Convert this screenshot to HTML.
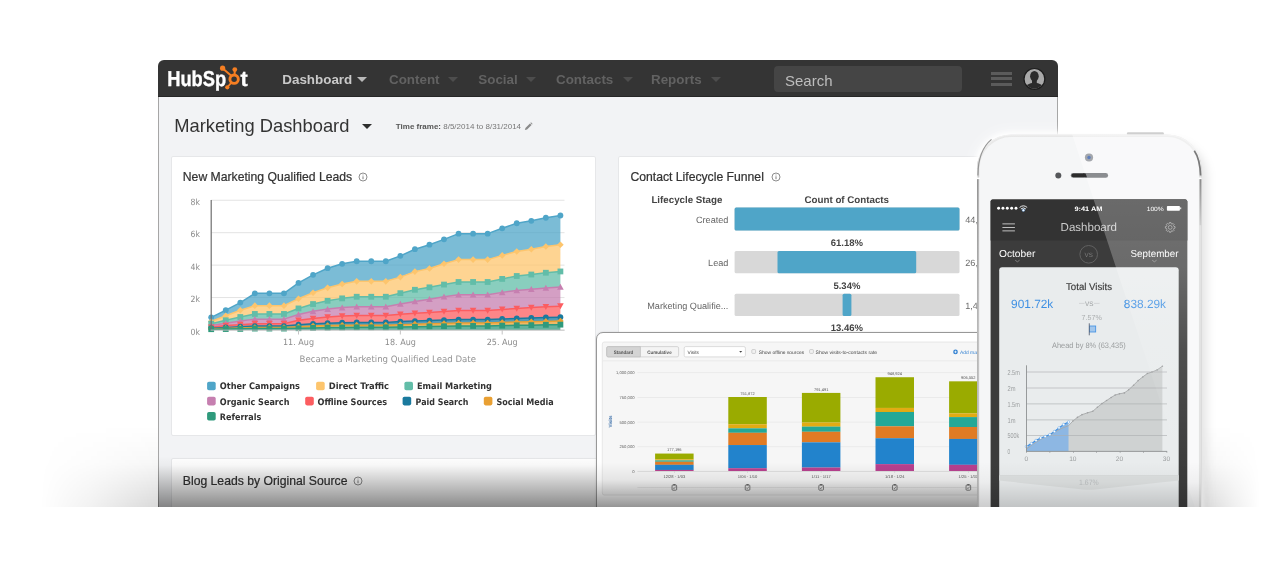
<!DOCTYPE html>
<html lang="en">
<head>
<meta charset="utf-8">
<title>HubSpot Marketing Dashboard</title>
<style>
html,body{margin:0;padding:0;background:#fff;}
body{width:1280px;height:587px;overflow:hidden;position:relative;font-family:"Liberation Sans",Arial,sans-serif;}
#stage{position:absolute;left:0;top:0;width:1280px;height:506.6px;overflow:hidden;}
.abs{position:absolute;}
svg{position:absolute;overflow:visible;}
svg text{font-family:"Liberation Sans",Arial,sans-serif;text-rendering:geometricPrecision;}
.dv{font-family:"DejaVu Sans Condensed","DejaVu Sans",sans-serif;}
/* main window */
#win{position:absolute;left:158px;top:60px;width:899.8px;height:460px;background:#f2f3f5;border-radius:6px 6px 0 0;overflow:hidden;}
#nav{position:absolute;left:0;top:0;width:900px;height:37px;background:#343434;border-bottom:1px solid #262626;box-sizing:border-box;}
.nv{position:absolute;top:10.5px;font-size:13.4px;font-weight:bold;color:#626262;white-space:nowrap;line-height:18px;}
.nv.on{color:#c9c9c9;}
.car{position:absolute;width:0;height:0;border-left:5px solid transparent;border-right:5px solid transparent;border-top:5px solid #4f4f4f;top:17px;}
.card{position:absolute;background:#fff;border:1px solid #e6e7e9;box-sizing:border-box;border-radius:2px;}
.ct{position:absolute;font-size:12.2px;color:#333;-webkit-text-stroke:0.22px #333;white-space:nowrap;line-height:16px;}
</style>
</head>
<body>
<div id="stage">
<div id="oshade" class="abs" style="left:40px;top:426px;width:1225px;height:81px;background:linear-gradient(to bottom,rgba(0,0,0,0) 0%,rgba(0,0,0,0.03) 45%,rgba(0,0,0,0.15) 100%);-webkit-mask-image:linear-gradient(to right,rgba(0,0,0,0) 0px,rgba(0,0,0,0.35) 50px,#000 118px,#000 1161px,rgba(0,0,0,0.8) 1175px,rgba(0,0,0,0.4) 1195px,rgba(0,0,0,0) 1220px);mask-image:linear-gradient(to right,rgba(0,0,0,0) 0px,rgba(0,0,0,0.35) 50px,#000 118px,#000 1161px,rgba(0,0,0,0.8) 1175px,rgba(0,0,0,0.4) 1195px,rgba(0,0,0,0) 1220px);"></div>
<div id="win">
<div id="nav">
<svg width="100" height="37" style="left:0;top:0" viewBox="158 60 100 37">
<text x="167.2" y="85.8" font-size="21.5" font-weight="bold" fill="#fff" stroke="#fff" stroke-width="0.35" textLength="59" lengthAdjust="spacingAndGlyphs">HubSp</text>
<text x="240.6" y="85.8" font-size="21.5" font-weight="bold" fill="#fff" stroke="#fff" stroke-width="0.35" textLength="7.2" lengthAdjust="spacingAndGlyphs">t</text>
<g stroke="#f57e22" fill="none" stroke-linecap="round">
<circle cx="234.1" cy="79.2" r="4.2" stroke-width="2.9"/>
<path d="M234.6 74.5 L234.8 69.8" stroke-width="2"/>
<path d="M231 75.6 L222.8 68.4" stroke-width="2"/>
<path d="M231.2 82.8 L227.5 87" stroke-width="1.8"/>
</g>
<g fill="#f57e22"><circle cx="234.8" cy="69.6" r="2.4"/><circle cx="222.6" cy="68.2" r="2.6"/><circle cx="227.3" cy="87.3" r="2.1"/></g>
</svg>
<div class="nv on" style="left:124.3px">Dashboard</div>
<div class="car" style="left:199.4px;border-top-color:#b9b9b9"></div>
<div class="nv" style="left:231px">Content</div>
<div class="car" style="left:289.5px;border-top-color:#4d4d4d"></div>
<div class="nv" style="left:320.3px">Social</div>
<div class="car" style="left:367.5px;border-top-color:#4d4d4d"></div>
<div class="nv" style="left:398px">Contacts</div>
<div class="car" style="left:464.5px;border-top-color:#4d4d4d"></div>
<div class="nv" style="left:493px">Reports</div>
<div class="car" style="left:552.5px;border-top-color:#4d4d4d"></div>
<div class="abs" style="left:616px;top:6px;width:188px;height:26px;background:#454545;border-radius:4px;"></div>
<div class="abs" style="left:627px;top:12.1px;font-size:15px;color:#bdbdbd;line-height:18px;">Search</div>
<div class="abs" style="left:832.5px;top:12px;width:21.5px;height:2.8px;background:#5b5b5b;"></div>
<div class="abs" style="left:832.5px;top:17.4px;width:21.5px;height:2.8px;background:#5b5b5b;"></div>
<div class="abs" style="left:832.5px;top:22.8px;width:21.5px;height:2.8px;background:#5b5b5b;"></div>
<svg width="30" height="30" style="left:861px;top:4px" viewBox="1019 64 30 30">
<circle cx="1034.4" cy="78.9" r="10.4" fill="#a9a9a9" stroke="#1d1d1d" stroke-width="1.2"/>
<clipPath id="avc"><circle cx="1034.4" cy="78.9" r="9.8"/></clipPath>
<g clip-path="url(#avc)" fill="#2b2b2b"><ellipse cx="1034.4" cy="76.2" rx="4.3" ry="5.3"/><path d="M1032 80 H1036.8 V83 C1041 84.2 1044 85.2 1045.5 92 H1023.3 C1024.8 85.2 1027.8 84.2 1032 83 Z"/></g>
</svg>
</div>
<div class="abs" style="left:16.2px;top:56.3px;font-size:18.33px;color:#333;line-height:20px;white-space:nowrap;">Marketing Dashboard</div>
<div class="abs" style="left:204.3px;top:63.6px;width:0;height:0;border-left:5.3px solid transparent;border-right:5.3px solid transparent;border-top:5.8px solid #2e2e2e;"></div>
<div class="abs" style="left:237.8px;top:61.5px;font-size:8px;color:#777;line-height:10px;white-space:nowrap;"><b style="color:#555">Time frame:</b> 8/5/2014 to 8/31/2014</div>
<svg width="9" height="9" style="left:365.6px;top:61.6px" viewBox="0 0 10 10"><path d="M1 9 L1.6 6.6 L6.6 1.6 L8.4 3.4 L3.4 8.4 Z" fill="#8a8a8a"/><path d="M7.1 1.1 L7.8 0.4 L9.6 2.2 L8.9 2.9 Z" fill="#8a8a8a"/></svg>
<div class="card" style="left:13px;top:96px;width:425px;height:280px;"></div>
<div class="card" style="left:460px;top:96px;width:460px;height:280px;"></div>
<div class="card" style="left:13px;top:398px;width:907px;height:80px;"></div>
<div class="ct" style="left:24.8px;top:108.5px;">New Marketing Qualified Leads</div><svg width="10" height="10" style="left:199.9px;top:111.8px" viewBox="0 0 10 10"><circle cx="5" cy="5" r="4" fill="none" stroke="#808080" stroke-width="0.9"/><path d="M5 4.3 V7.2 M5 2.6 V3.4" stroke="#808080" stroke-width="1"/></svg>
<div class="ct" style="left:472.4px;top:108.5px;">Contact Lifecycle Funnel</div><svg width="10" height="10" style="left:612.5px;top:111.8px" viewBox="0 0 10 10"><circle cx="5" cy="5" r="4" fill="none" stroke="#808080" stroke-width="0.9"/><path d="M5 4.3 V7.2 M5 2.6 V3.4" stroke="#808080" stroke-width="1"/></svg>
<div class="ct" style="left:24.8px;top:413px;">Blog Leads by Original Source</div><svg width="10" height="10" style="left:195px;top:416.2px" viewBox="0 0 10 10"><circle cx="5" cy="5" r="4" fill="none" stroke="#808080" stroke-width="0.9"/><path d="M5 4.3 V7.2 M5 2.6 V3.4" stroke="#808080" stroke-width="1"/></svg>
<svg width="900" height="460" style="left:0;top:0" viewBox="158 60 900 460">
<rect x="211" y="297.06" width="353.5" height="1" fill="#e3e3e3"/>
<rect x="211" y="264.62" width="353.5" height="1" fill="#e3e3e3"/>
<rect x="211" y="232.18" width="353.5" height="1" fill="#e3e3e3"/>
<rect x="211" y="199.74" width="353.5" height="1" fill="#e3e3e3"/>
<text class="dv" x="200" y="334.60" font-size="8.6" fill="#8c8c8c" text-anchor="end">0k</text>
<text class="dv" x="200" y="302.16" font-size="8.6" fill="#8c8c8c" text-anchor="end">2k</text>
<text class="dv" x="200" y="269.72" font-size="8.6" fill="#8c8c8c" text-anchor="end">4k</text>
<text class="dv" x="200" y="237.28" font-size="8.6" fill="#8c8c8c" text-anchor="end">6k</text>
<text class="dv" x="200" y="204.84" font-size="8.6" fill="#8c8c8c" text-anchor="end">8k</text>
<path d="M211.2 317.35 L225.75 310.21 L240.3 302.59 L254.85 293.34 L269.4 293.34 L283.95 293.34 L298.5 282.96 L313.05 274.85 L327.6 268.2 L342.15 263.82 L356.7 261.23 L371.25 261.23 L385.8 261.23 L400.35 255.87 L414.9 249.22 L429.45 244.68 L444.0 239.33 L458.55 233.65 L473.1 233.65 L487.65 233.65 L502.2 228.3 L516.75 223.27 L531.3 220.84 L545.85 217.76 L560.4 215.49 L560.4 244.68 L545.85 246.47 L531.3 249.22 L516.75 251.5 L502.2 255.39 L487.65 259.61 L473.1 259.61 L458.55 259.61 L444.0 263.82 L429.45 268.53 L414.9 271.61 L400.35 277.12 L385.8 281.34 L371.25 281.34 L356.7 281.34 L342.15 283.94 L327.6 287.83 L313.05 292.69 L298.5 298.7 L283.95 305.67 L269.4 305.67 L254.85 305.67 L240.3 310.21 L225.75 315.73 L211.2 321.57 Z" fill="#4fa5c8" fill-opacity="0.75"/>
<path d="M211.2 321.57 L225.75 315.73 L240.3 310.21 L254.85 305.67 L269.4 305.67 L283.95 305.67 L298.5 298.7 L313.05 292.69 L327.6 287.83 L342.15 283.94 L356.7 281.34 L371.25 281.34 L385.8 281.34 L400.35 277.12 L414.9 271.61 L429.45 268.53 L444.0 263.82 L458.55 259.61 L473.1 259.61 L487.65 259.61 L502.2 255.39 L516.75 251.5 L531.3 249.22 L545.85 246.47 L560.4 244.68 L560.4 271.45 L545.85 272.74 L531.3 274.53 L516.75 275.99 L502.2 278.91 L487.65 281.99 L473.1 281.99 L458.55 281.99 L444.0 284.58 L429.45 287.34 L414.9 289.77 L400.35 293.18 L385.8 296.75 L371.25 296.75 L356.7 296.75 L342.15 298.37 L327.6 300.8 L313.05 304.05 L298.5 308.43 L283.95 313.94 L269.4 313.94 L254.85 313.94 L240.3 317.02 L225.75 320.27 L211.2 323.67 Z" fill="#fdc56d" fill-opacity="0.75"/>
<path d="M211.2 323.67 L225.75 320.27 L240.3 317.02 L254.85 313.94 L269.4 313.94 L283.95 313.94 L298.5 308.43 L313.05 304.05 L327.6 300.8 L342.15 298.37 L356.7 296.75 L371.25 296.75 L385.8 296.75 L400.35 293.18 L414.9 289.77 L429.45 287.34 L444.0 284.58 L458.55 281.99 L473.1 281.99 L487.65 281.99 L502.2 278.91 L516.75 275.99 L531.3 274.53 L545.85 272.74 L560.4 271.45 L560.4 287.02 L545.85 287.99 L531.3 289.29 L516.75 290.42 L502.2 292.37 L487.65 294.64 L473.1 294.64 L458.55 294.64 L444.0 296.75 L429.45 299.18 L414.9 301.45 L400.35 304.05 L385.8 306.64 L371.25 306.64 L356.7 306.64 L342.15 307.62 L327.6 309.08 L313.05 311.35 L298.5 314.43 L283.95 319.13 L269.4 319.13 L254.85 319.13 L240.3 321.08 L225.75 323.35 L211.2 325.46 Z" fill="#62bda8" fill-opacity="0.75"/>
<path d="M211.2 325.46 L225.75 323.35 L240.3 321.08 L254.85 319.13 L269.4 319.13 L283.95 319.13 L298.5 314.43 L313.05 311.35 L327.6 309.08 L342.15 307.62 L356.7 306.64 L371.25 306.64 L385.8 306.64 L400.35 304.05 L414.9 301.45 L429.45 299.18 L444.0 296.75 L458.55 294.64 L473.1 294.64 L487.65 294.64 L502.2 292.37 L516.75 290.42 L531.3 289.29 L545.85 287.99 L560.4 287.02 L560.4 306.16 L545.85 306.81 L531.3 307.62 L516.75 308.43 L502.2 309.4 L487.65 310.54 L473.1 310.54 L458.55 310.54 L444.0 311.51 L429.45 312.48 L414.9 313.29 L400.35 314.27 L385.8 315.56 L371.25 315.56 L356.7 315.56 L342.15 316.05 L327.6 317.02 L313.05 318.48 L298.5 320.27 L283.95 323.67 L269.4 323.67 L254.85 323.67 L240.3 324.65 L225.75 325.62 L211.2 327.24 Z" fill="#c67fb0" fill-opacity="0.75"/>
<path d="M211.2 327.24 L225.75 325.62 L240.3 324.65 L254.85 323.67 L269.4 323.67 L283.95 323.67 L298.5 320.27 L313.05 318.48 L327.6 317.02 L342.15 316.05 L356.7 315.56 L371.25 315.56 L385.8 315.56 L400.35 314.27 L414.9 313.29 L429.45 312.48 L444.0 311.51 L458.55 310.54 L473.1 310.54 L487.65 310.54 L502.2 309.4 L516.75 308.43 L531.3 307.62 L545.85 306.81 L560.4 306.16 L560.4 317.19 L545.85 317.51 L531.3 318.0 L516.75 318.48 L502.2 318.97 L487.65 319.62 L473.1 319.62 L458.55 319.62 L444.0 320.11 L429.45 320.59 L414.9 321.08 L400.35 321.57 L385.8 322.38 L371.25 322.38 L356.7 322.38 L342.15 322.7 L327.6 323.19 L313.05 323.84 L298.5 324.65 L283.95 326.11 L269.4 326.11 L254.85 326.11 L240.3 326.76 L225.75 327.4 L211.2 328.22 Z" fill="#fc5d60" fill-opacity="0.75"/>
<path d="M211.2 328.22 L225.75 327.4 L240.3 326.76 L254.85 326.11 L269.4 326.11 L283.95 326.11 L298.5 324.65 L313.05 323.84 L327.6 323.19 L342.15 322.7 L356.7 322.38 L371.25 322.38 L385.8 322.38 L400.35 321.57 L414.9 321.08 L429.45 320.59 L444.0 320.11 L458.55 319.62 L473.1 319.62 L487.65 319.62 L502.2 318.97 L516.75 318.48 L531.3 318.0 L545.85 317.51 L560.4 317.19 L560.4 321.08 L545.85 321.4 L531.3 321.73 L516.75 322.05 L502.2 322.54 L487.65 323.03 L473.1 323.03 L458.55 323.03 L444.0 323.51 L429.45 323.84 L414.9 324.16 L400.35 324.65 L385.8 325.13 L371.25 325.13 L356.7 325.13 L342.15 325.3 L327.6 325.62 L313.05 326.11 L298.5 326.76 L283.95 327.57 L269.4 327.57 L254.85 327.57 L240.3 327.89 L225.75 328.38 L211.2 328.7 Z" fill="#1a7a9e" fill-opacity="0.75"/>
<path d="M211.2 328.7 L225.75 328.38 L240.3 327.89 L254.85 327.57 L269.4 327.57 L283.95 327.57 L298.5 326.76 L313.05 326.11 L327.6 325.62 L342.15 325.3 L356.7 325.13 L371.25 325.13 L385.8 325.13 L400.35 324.65 L414.9 324.16 L429.45 323.84 L444.0 323.51 L458.55 323.03 L473.1 323.03 L487.65 323.03 L502.2 322.54 L516.75 322.05 L531.3 321.73 L545.85 321.4 L560.4 321.08 L560.4 324.65 L545.85 324.81 L531.3 325.13 L516.75 325.3 L502.2 325.62 L487.65 325.94 L473.1 325.94 L458.55 325.94 L444.0 326.27 L429.45 326.43 L414.9 326.76 L400.35 326.92 L385.8 327.24 L371.25 327.24 L356.7 327.24 L342.15 327.4 L327.6 327.57 L313.05 327.89 L298.5 328.22 L283.95 328.54 L269.4 328.54 L254.85 328.54 L240.3 328.86 L225.75 329.03 L211.2 329.19 Z" fill="#e9a033" fill-opacity="0.75"/>
<path d="M211.2 329.19 L225.75 329.03 L240.3 328.86 L254.85 328.54 L269.4 328.54 L283.95 328.54 L298.5 328.22 L313.05 327.89 L327.6 327.57 L342.15 327.4 L356.7 327.24 L371.25 327.24 L385.8 327.24 L400.35 326.92 L414.9 326.76 L429.45 326.43 L444.0 326.27 L458.55 325.94 L473.1 325.94 L487.65 325.94 L502.2 325.62 L516.75 325.3 L531.3 325.13 L545.85 324.81 L560.4 324.65 L560.4 330.0 L545.85 330.0 L531.3 330.0 L516.75 330.0 L502.2 330.0 L487.65 330.0 L473.1 330.0 L458.55 330.0 L444.0 330.0 L429.45 330.0 L414.9 330.0 L400.35 330.0 L385.8 330.0 L371.25 330.0 L356.7 330.0 L342.15 330.0 L327.6 330.0 L313.05 330.0 L298.5 330.0 L283.95 330.0 L269.4 330.0 L254.85 330.0 L240.3 330.0 L225.75 330.0 L211.2 330.0 Z" fill="#2f9a7c" fill-opacity="0.75"/>
<path d="M211.2 317.35 L225.75 310.21 L240.3 302.59 L254.85 293.34 L269.4 293.34 L283.95 293.34 L298.5 282.96 L313.05 274.85 L327.6 268.2 L342.15 263.82 L356.7 261.23 L371.25 261.23 L385.8 261.23 L400.35 255.87 L414.9 249.22 L429.45 244.68 L444.0 239.33 L458.55 233.65 L473.1 233.65 L487.65 233.65 L502.2 228.3 L516.75 223.27 L531.3 220.84 L545.85 217.76 L560.4 215.49" fill="none" stroke="#4fa5c8" stroke-width="1.5" stroke-linejoin="round"/>
<circle cx="211.2" cy="317.35" r="2.9" fill="#4fa5c8"/><circle cx="225.75" cy="310.21" r="2.9" fill="#4fa5c8"/><circle cx="240.3" cy="302.59" r="2.9" fill="#4fa5c8"/><circle cx="254.85" cy="293.34" r="2.9" fill="#4fa5c8"/><circle cx="269.4" cy="293.34" r="2.9" fill="#4fa5c8"/><circle cx="283.95" cy="293.34" r="2.9" fill="#4fa5c8"/><circle cx="298.5" cy="282.96" r="2.9" fill="#4fa5c8"/><circle cx="313.05" cy="274.85" r="2.9" fill="#4fa5c8"/><circle cx="327.6" cy="268.2" r="2.9" fill="#4fa5c8"/><circle cx="342.15" cy="263.82" r="2.9" fill="#4fa5c8"/><circle cx="356.7" cy="261.23" r="2.9" fill="#4fa5c8"/><circle cx="371.25" cy="261.23" r="2.9" fill="#4fa5c8"/><circle cx="385.8" cy="261.23" r="2.9" fill="#4fa5c8"/><circle cx="400.35" cy="255.87" r="2.9" fill="#4fa5c8"/><circle cx="414.9" cy="249.22" r="2.9" fill="#4fa5c8"/><circle cx="429.45" cy="244.68" r="2.9" fill="#4fa5c8"/><circle cx="444.0" cy="239.33" r="2.9" fill="#4fa5c8"/><circle cx="458.55" cy="233.65" r="2.9" fill="#4fa5c8"/><circle cx="473.1" cy="233.65" r="2.9" fill="#4fa5c8"/><circle cx="487.65" cy="233.65" r="2.9" fill="#4fa5c8"/><circle cx="502.2" cy="228.3" r="2.9" fill="#4fa5c8"/><circle cx="516.75" cy="223.27" r="2.9" fill="#4fa5c8"/><circle cx="531.3" cy="220.84" r="2.9" fill="#4fa5c8"/><circle cx="545.85" cy="217.76" r="2.9" fill="#4fa5c8"/><circle cx="560.4" cy="215.49" r="2.9" fill="#4fa5c8"/>
<path d="M211.2 321.57 L225.75 315.73 L240.3 310.21 L254.85 305.67 L269.4 305.67 L283.95 305.67 L298.5 298.7 L313.05 292.69 L327.6 287.83 L342.15 283.94 L356.7 281.34 L371.25 281.34 L385.8 281.34 L400.35 277.12 L414.9 271.61 L429.45 268.53 L444.0 263.82 L458.55 259.61 L473.1 259.61 L487.65 259.61 L502.2 255.39 L516.75 251.5 L531.3 249.22 L545.85 246.47 L560.4 244.68" fill="none" stroke="#fdc56d" stroke-width="1.5" stroke-linejoin="round"/>
<path d="M211.2 318.27 L214.50 321.57 L211.2 324.87 L207.90 321.57 Z" fill="#fdc56d"/><path d="M225.75 312.43 L229.05 315.73 L225.75 319.03 L222.45 315.73 Z" fill="#fdc56d"/><path d="M240.3 306.91 L243.60 310.21 L240.3 313.51 L237.00 310.21 Z" fill="#fdc56d"/><path d="M254.85 302.37 L258.15 305.67 L254.85 308.97 L251.55 305.67 Z" fill="#fdc56d"/><path d="M269.4 302.37 L272.70 305.67 L269.4 308.97 L266.10 305.67 Z" fill="#fdc56d"/><path d="M283.95 302.37 L287.25 305.67 L283.95 308.97 L280.65 305.67 Z" fill="#fdc56d"/><path d="M298.5 295.40 L301.80 298.7 L298.5 302.00 L295.20 298.7 Z" fill="#fdc56d"/><path d="M313.05 289.39 L316.35 292.69 L313.05 295.99 L309.75 292.69 Z" fill="#fdc56d"/><path d="M327.6 284.53 L330.90 287.83 L327.6 291.13 L324.30 287.83 Z" fill="#fdc56d"/><path d="M342.15 280.64 L345.45 283.94 L342.15 287.24 L338.85 283.94 Z" fill="#fdc56d"/><path d="M356.7 278.04 L360.00 281.34 L356.7 284.64 L353.40 281.34 Z" fill="#fdc56d"/><path d="M371.25 278.04 L374.55 281.34 L371.25 284.64 L367.95 281.34 Z" fill="#fdc56d"/><path d="M385.8 278.04 L389.10 281.34 L385.8 284.64 L382.50 281.34 Z" fill="#fdc56d"/><path d="M400.35 273.82 L403.65 277.12 L400.35 280.42 L397.05 277.12 Z" fill="#fdc56d"/><path d="M414.9 268.31 L418.20 271.61 L414.9 274.91 L411.60 271.61 Z" fill="#fdc56d"/><path d="M429.45 265.23 L432.75 268.53 L429.45 271.83 L426.15 268.53 Z" fill="#fdc56d"/><path d="M444.0 260.52 L447.30 263.82 L444.0 267.12 L440.70 263.82 Z" fill="#fdc56d"/><path d="M458.55 256.31 L461.85 259.61 L458.55 262.91 L455.25 259.61 Z" fill="#fdc56d"/><path d="M473.1 256.31 L476.40 259.61 L473.1 262.91 L469.80 259.61 Z" fill="#fdc56d"/><path d="M487.65 256.31 L490.95 259.61 L487.65 262.91 L484.35 259.61 Z" fill="#fdc56d"/><path d="M502.2 252.09 L505.50 255.39 L502.2 258.69 L498.90 255.39 Z" fill="#fdc56d"/><path d="M516.75 248.20 L520.05 251.5 L516.75 254.80 L513.45 251.5 Z" fill="#fdc56d"/><path d="M531.3 245.92 L534.60 249.22 L531.3 252.52 L528.00 249.22 Z" fill="#fdc56d"/><path d="M545.85 243.17 L549.15 246.47 L545.85 249.77 L542.55 246.47 Z" fill="#fdc56d"/><path d="M560.4 241.38 L563.70 244.68 L560.4 247.98 L557.10 244.68 Z" fill="#fdc56d"/>
<path d="M211.2 323.67 L225.75 320.27 L240.3 317.02 L254.85 313.94 L269.4 313.94 L283.95 313.94 L298.5 308.43 L313.05 304.05 L327.6 300.8 L342.15 298.37 L356.7 296.75 L371.25 296.75 L385.8 296.75 L400.35 293.18 L414.9 289.77 L429.45 287.34 L444.0 284.58 L458.55 281.99 L473.1 281.99 L487.65 281.99 L502.2 278.91 L516.75 275.99 L531.3 274.53 L545.85 272.74 L560.4 271.45" fill="none" stroke="#62bda8" stroke-width="1.5" stroke-linejoin="round"/>
<rect x="208.30" y="320.77" width="5.8" height="5.8" fill="#62bda8"/><rect x="222.85" y="317.37" width="5.8" height="5.8" fill="#62bda8"/><rect x="237.40" y="314.12" width="5.8" height="5.8" fill="#62bda8"/><rect x="251.95" y="311.04" width="5.8" height="5.8" fill="#62bda8"/><rect x="266.50" y="311.04" width="5.8" height="5.8" fill="#62bda8"/><rect x="281.05" y="311.04" width="5.8" height="5.8" fill="#62bda8"/><rect x="295.60" y="305.53" width="5.8" height="5.8" fill="#62bda8"/><rect x="310.15" y="301.15" width="5.8" height="5.8" fill="#62bda8"/><rect x="324.70" y="297.90" width="5.8" height="5.8" fill="#62bda8"/><rect x="339.25" y="295.47" width="5.8" height="5.8" fill="#62bda8"/><rect x="353.80" y="293.85" width="5.8" height="5.8" fill="#62bda8"/><rect x="368.35" y="293.85" width="5.8" height="5.8" fill="#62bda8"/><rect x="382.90" y="293.85" width="5.8" height="5.8" fill="#62bda8"/><rect x="397.45" y="290.28" width="5.8" height="5.8" fill="#62bda8"/><rect x="412.00" y="286.87" width="5.8" height="5.8" fill="#62bda8"/><rect x="426.55" y="284.44" width="5.8" height="5.8" fill="#62bda8"/><rect x="441.10" y="281.68" width="5.8" height="5.8" fill="#62bda8"/><rect x="455.65" y="279.09" width="5.8" height="5.8" fill="#62bda8"/><rect x="470.20" y="279.09" width="5.8" height="5.8" fill="#62bda8"/><rect x="484.75" y="279.09" width="5.8" height="5.8" fill="#62bda8"/><rect x="499.30" y="276.01" width="5.8" height="5.8" fill="#62bda8"/><rect x="513.85" y="273.09" width="5.8" height="5.8" fill="#62bda8"/><rect x="528.40" y="271.63" width="5.8" height="5.8" fill="#62bda8"/><rect x="542.95" y="269.84" width="5.8" height="5.8" fill="#62bda8"/><rect x="557.50" y="268.55" width="5.8" height="5.8" fill="#62bda8"/>
<path d="M211.2 325.46 L225.75 323.35 L240.3 321.08 L254.85 319.13 L269.4 319.13 L283.95 319.13 L298.5 314.43 L313.05 311.35 L327.6 309.08 L342.15 307.62 L356.7 306.64 L371.25 306.64 L385.8 306.64 L400.35 304.05 L414.9 301.45 L429.45 299.18 L444.0 296.75 L458.55 294.64 L473.1 294.64 L487.65 294.64 L502.2 292.37 L516.75 290.42 L531.3 289.29 L545.85 287.99 L560.4 287.02" fill="none" stroke="#c67fb0" stroke-width="1.5" stroke-linejoin="round"/>
<path d="M211.2 322.26 L214.50 328.26 L207.90 328.26 Z" fill="#c67fb0"/><path d="M225.75 320.15 L229.05 326.15 L222.45 326.15 Z" fill="#c67fb0"/><path d="M240.3 317.88 L243.60 323.88 L237.00 323.88 Z" fill="#c67fb0"/><path d="M254.85 315.93 L258.15 321.93 L251.55 321.93 Z" fill="#c67fb0"/><path d="M269.4 315.93 L272.70 321.93 L266.10 321.93 Z" fill="#c67fb0"/><path d="M283.95 315.93 L287.25 321.93 L280.65 321.93 Z" fill="#c67fb0"/><path d="M298.5 311.23 L301.80 317.23 L295.20 317.23 Z" fill="#c67fb0"/><path d="M313.05 308.15 L316.35 314.15 L309.75 314.15 Z" fill="#c67fb0"/><path d="M327.6 305.88 L330.90 311.88 L324.30 311.88 Z" fill="#c67fb0"/><path d="M342.15 304.42 L345.45 310.42 L338.85 310.42 Z" fill="#c67fb0"/><path d="M356.7 303.44 L360.00 309.44 L353.40 309.44 Z" fill="#c67fb0"/><path d="M371.25 303.44 L374.55 309.44 L367.95 309.44 Z" fill="#c67fb0"/><path d="M385.8 303.44 L389.10 309.44 L382.50 309.44 Z" fill="#c67fb0"/><path d="M400.35 300.85 L403.65 306.85 L397.05 306.85 Z" fill="#c67fb0"/><path d="M414.9 298.25 L418.20 304.25 L411.60 304.25 Z" fill="#c67fb0"/><path d="M429.45 295.98 L432.75 301.98 L426.15 301.98 Z" fill="#c67fb0"/><path d="M444.0 293.55 L447.30 299.55 L440.70 299.55 Z" fill="#c67fb0"/><path d="M458.55 291.44 L461.85 297.44 L455.25 297.44 Z" fill="#c67fb0"/><path d="M473.1 291.44 L476.40 297.44 L469.80 297.44 Z" fill="#c67fb0"/><path d="M487.65 291.44 L490.95 297.44 L484.35 297.44 Z" fill="#c67fb0"/><path d="M502.2 289.17 L505.50 295.17 L498.90 295.17 Z" fill="#c67fb0"/><path d="M516.75 287.22 L520.05 293.22 L513.45 293.22 Z" fill="#c67fb0"/><path d="M531.3 286.09 L534.60 292.09 L528.00 292.09 Z" fill="#c67fb0"/><path d="M545.85 284.79 L549.15 290.79 L542.55 290.79 Z" fill="#c67fb0"/><path d="M560.4 283.82 L563.70 289.82 L557.10 289.82 Z" fill="#c67fb0"/>
<path d="M211.2 327.24 L225.75 325.62 L240.3 324.65 L254.85 323.67 L269.4 323.67 L283.95 323.67 L298.5 320.27 L313.05 318.48 L327.6 317.02 L342.15 316.05 L356.7 315.56 L371.25 315.56 L385.8 315.56 L400.35 314.27 L414.9 313.29 L429.45 312.48 L444.0 311.51 L458.55 310.54 L473.1 310.54 L487.65 310.54 L502.2 309.4 L516.75 308.43 L531.3 307.62 L545.85 306.81 L560.4 306.16" fill="none" stroke="#fc5d60" stroke-width="1.5" stroke-linejoin="round"/>
<path d="M211.2 330.44 L214.50 324.44 L207.90 324.44 Z" fill="#fc5d60"/><path d="M225.75 328.82 L229.05 322.82 L222.45 322.82 Z" fill="#fc5d60"/><path d="M240.3 327.85 L243.60 321.85 L237.00 321.85 Z" fill="#fc5d60"/><path d="M254.85 326.87 L258.15 320.87 L251.55 320.87 Z" fill="#fc5d60"/><path d="M269.4 326.87 L272.70 320.87 L266.10 320.87 Z" fill="#fc5d60"/><path d="M283.95 326.87 L287.25 320.87 L280.65 320.87 Z" fill="#fc5d60"/><path d="M298.5 323.47 L301.80 317.47 L295.20 317.47 Z" fill="#fc5d60"/><path d="M313.05 321.68 L316.35 315.68 L309.75 315.68 Z" fill="#fc5d60"/><path d="M327.6 320.22 L330.90 314.22 L324.30 314.22 Z" fill="#fc5d60"/><path d="M342.15 319.25 L345.45 313.25 L338.85 313.25 Z" fill="#fc5d60"/><path d="M356.7 318.76 L360.00 312.76 L353.40 312.76 Z" fill="#fc5d60"/><path d="M371.25 318.76 L374.55 312.76 L367.95 312.76 Z" fill="#fc5d60"/><path d="M385.8 318.76 L389.10 312.76 L382.50 312.76 Z" fill="#fc5d60"/><path d="M400.35 317.47 L403.65 311.47 L397.05 311.47 Z" fill="#fc5d60"/><path d="M414.9 316.49 L418.20 310.49 L411.60 310.49 Z" fill="#fc5d60"/><path d="M429.45 315.68 L432.75 309.68 L426.15 309.68 Z" fill="#fc5d60"/><path d="M444.0 314.71 L447.30 308.71 L440.70 308.71 Z" fill="#fc5d60"/><path d="M458.55 313.74 L461.85 307.74 L455.25 307.74 Z" fill="#fc5d60"/><path d="M473.1 313.74 L476.40 307.74 L469.80 307.74 Z" fill="#fc5d60"/><path d="M487.65 313.74 L490.95 307.74 L484.35 307.74 Z" fill="#fc5d60"/><path d="M502.2 312.60 L505.50 306.60 L498.90 306.60 Z" fill="#fc5d60"/><path d="M516.75 311.63 L520.05 305.63 L513.45 305.63 Z" fill="#fc5d60"/><path d="M531.3 310.82 L534.60 304.82 L528.00 304.82 Z" fill="#fc5d60"/><path d="M545.85 310.01 L549.15 304.01 L542.55 304.01 Z" fill="#fc5d60"/><path d="M560.4 309.36 L563.70 303.36 L557.10 303.36 Z" fill="#fc5d60"/>
<path d="M211.2 328.22 L225.75 327.4 L240.3 326.76 L254.85 326.11 L269.4 326.11 L283.95 326.11 L298.5 324.65 L313.05 323.84 L327.6 323.19 L342.15 322.7 L356.7 322.38 L371.25 322.38 L385.8 322.38 L400.35 321.57 L414.9 321.08 L429.45 320.59 L444.0 320.11 L458.55 319.62 L473.1 319.62 L487.65 319.62 L502.2 318.97 L516.75 318.48 L531.3 318.0 L545.85 317.51 L560.4 317.19" fill="none" stroke="#1a7a9e" stroke-width="1.5" stroke-linejoin="round"/>
<circle cx="211.2" cy="328.22" r="2.9" fill="#1a7a9e"/><circle cx="225.75" cy="327.4" r="2.9" fill="#1a7a9e"/><circle cx="240.3" cy="326.76" r="2.9" fill="#1a7a9e"/><circle cx="254.85" cy="326.11" r="2.9" fill="#1a7a9e"/><circle cx="269.4" cy="326.11" r="2.9" fill="#1a7a9e"/><circle cx="283.95" cy="326.11" r="2.9" fill="#1a7a9e"/><circle cx="298.5" cy="324.65" r="2.9" fill="#1a7a9e"/><circle cx="313.05" cy="323.84" r="2.9" fill="#1a7a9e"/><circle cx="327.6" cy="323.19" r="2.9" fill="#1a7a9e"/><circle cx="342.15" cy="322.7" r="2.9" fill="#1a7a9e"/><circle cx="356.7" cy="322.38" r="2.9" fill="#1a7a9e"/><circle cx="371.25" cy="322.38" r="2.9" fill="#1a7a9e"/><circle cx="385.8" cy="322.38" r="2.9" fill="#1a7a9e"/><circle cx="400.35" cy="321.57" r="2.9" fill="#1a7a9e"/><circle cx="414.9" cy="321.08" r="2.9" fill="#1a7a9e"/><circle cx="429.45" cy="320.59" r="2.9" fill="#1a7a9e"/><circle cx="444.0" cy="320.11" r="2.9" fill="#1a7a9e"/><circle cx="458.55" cy="319.62" r="2.9" fill="#1a7a9e"/><circle cx="473.1" cy="319.62" r="2.9" fill="#1a7a9e"/><circle cx="487.65" cy="319.62" r="2.9" fill="#1a7a9e"/><circle cx="502.2" cy="318.97" r="2.9" fill="#1a7a9e"/><circle cx="516.75" cy="318.48" r="2.9" fill="#1a7a9e"/><circle cx="531.3" cy="318.0" r="2.9" fill="#1a7a9e"/><circle cx="545.85" cy="317.51" r="2.9" fill="#1a7a9e"/><circle cx="560.4" cy="317.19" r="2.9" fill="#1a7a9e"/>
<path d="M211.2 328.7 L225.75 328.38 L240.3 327.89 L254.85 327.57 L269.4 327.57 L283.95 327.57 L298.5 326.76 L313.05 326.11 L327.6 325.62 L342.15 325.3 L356.7 325.13 L371.25 325.13 L385.8 325.13 L400.35 324.65 L414.9 324.16 L429.45 323.84 L444.0 323.51 L458.55 323.03 L473.1 323.03 L487.65 323.03 L502.2 322.54 L516.75 322.05 L531.3 321.73 L545.85 321.4 L560.4 321.08" fill="none" stroke="#e9a033" stroke-width="1.5" stroke-linejoin="round"/>
<path d="M211.2 325.40 L214.50 328.7 L211.2 332.00 L207.90 328.7 Z" fill="#e9a033"/><path d="M225.75 325.08 L229.05 328.38 L225.75 331.68 L222.45 328.38 Z" fill="#e9a033"/><path d="M240.3 324.59 L243.60 327.89 L240.3 331.19 L237.00 327.89 Z" fill="#e9a033"/><path d="M254.85 324.27 L258.15 327.57 L254.85 330.87 L251.55 327.57 Z" fill="#e9a033"/><path d="M269.4 324.27 L272.70 327.57 L269.4 330.87 L266.10 327.57 Z" fill="#e9a033"/><path d="M283.95 324.27 L287.25 327.57 L283.95 330.87 L280.65 327.57 Z" fill="#e9a033"/><path d="M298.5 323.46 L301.80 326.76 L298.5 330.06 L295.20 326.76 Z" fill="#e9a033"/><path d="M313.05 322.81 L316.35 326.11 L313.05 329.41 L309.75 326.11 Z" fill="#e9a033"/><path d="M327.6 322.32 L330.90 325.62 L327.6 328.92 L324.30 325.62 Z" fill="#e9a033"/><path d="M342.15 322.00 L345.45 325.3 L342.15 328.60 L338.85 325.3 Z" fill="#e9a033"/><path d="M356.7 321.83 L360.00 325.13 L356.7 328.43 L353.40 325.13 Z" fill="#e9a033"/><path d="M371.25 321.83 L374.55 325.13 L371.25 328.43 L367.95 325.13 Z" fill="#e9a033"/><path d="M385.8 321.83 L389.10 325.13 L385.8 328.43 L382.50 325.13 Z" fill="#e9a033"/><path d="M400.35 321.35 L403.65 324.65 L400.35 327.95 L397.05 324.65 Z" fill="#e9a033"/><path d="M414.9 320.86 L418.20 324.16 L414.9 327.46 L411.60 324.16 Z" fill="#e9a033"/><path d="M429.45 320.54 L432.75 323.84 L429.45 327.14 L426.15 323.84 Z" fill="#e9a033"/><path d="M444.0 320.21 L447.30 323.51 L444.0 326.81 L440.70 323.51 Z" fill="#e9a033"/><path d="M458.55 319.73 L461.85 323.03 L458.55 326.33 L455.25 323.03 Z" fill="#e9a033"/><path d="M473.1 319.73 L476.40 323.03 L473.1 326.33 L469.80 323.03 Z" fill="#e9a033"/><path d="M487.65 319.73 L490.95 323.03 L487.65 326.33 L484.35 323.03 Z" fill="#e9a033"/><path d="M502.2 319.24 L505.50 322.54 L502.2 325.84 L498.90 322.54 Z" fill="#e9a033"/><path d="M516.75 318.75 L520.05 322.05 L516.75 325.35 L513.45 322.05 Z" fill="#e9a033"/><path d="M531.3 318.43 L534.60 321.73 L531.3 325.03 L528.00 321.73 Z" fill="#e9a033"/><path d="M545.85 318.10 L549.15 321.4 L545.85 324.70 L542.55 321.4 Z" fill="#e9a033"/><path d="M560.4 317.78 L563.70 321.08 L560.4 324.38 L557.10 321.08 Z" fill="#e9a033"/>
<path d="M211.2 329.19 L225.75 329.03 L240.3 328.86 L254.85 328.54 L269.4 328.54 L283.95 328.54 L298.5 328.22 L313.05 327.89 L327.6 327.57 L342.15 327.4 L356.7 327.24 L371.25 327.24 L385.8 327.24 L400.35 326.92 L414.9 326.76 L429.45 326.43 L444.0 326.27 L458.55 325.94 L473.1 325.94 L487.65 325.94 L502.2 325.62 L516.75 325.3 L531.3 325.13 L545.85 324.81 L560.4 324.65" fill="none" stroke="#2f9a7c" stroke-width="1.5" stroke-linejoin="round"/>
<rect x="208.30" y="326.29" width="5.8" height="5.8" fill="#2f9a7c"/><rect x="222.85" y="326.13" width="5.8" height="5.8" fill="#2f9a7c"/><rect x="237.40" y="325.96" width="5.8" height="5.8" fill="#2f9a7c"/><rect x="251.95" y="325.64" width="5.8" height="5.8" fill="#2f9a7c"/><rect x="266.50" y="325.64" width="5.8" height="5.8" fill="#2f9a7c"/><rect x="281.05" y="325.64" width="5.8" height="5.8" fill="#2f9a7c"/><rect x="295.60" y="325.32" width="5.8" height="5.8" fill="#2f9a7c"/><rect x="310.15" y="324.99" width="5.8" height="5.8" fill="#2f9a7c"/><rect x="324.70" y="324.67" width="5.8" height="5.8" fill="#2f9a7c"/><rect x="339.25" y="324.50" width="5.8" height="5.8" fill="#2f9a7c"/><rect x="353.80" y="324.34" width="5.8" height="5.8" fill="#2f9a7c"/><rect x="368.35" y="324.34" width="5.8" height="5.8" fill="#2f9a7c"/><rect x="382.90" y="324.34" width="5.8" height="5.8" fill="#2f9a7c"/><rect x="397.45" y="324.02" width="5.8" height="5.8" fill="#2f9a7c"/><rect x="412.00" y="323.86" width="5.8" height="5.8" fill="#2f9a7c"/><rect x="426.55" y="323.53" width="5.8" height="5.8" fill="#2f9a7c"/><rect x="441.10" y="323.37" width="5.8" height="5.8" fill="#2f9a7c"/><rect x="455.65" y="323.04" width="5.8" height="5.8" fill="#2f9a7c"/><rect x="470.20" y="323.04" width="5.8" height="5.8" fill="#2f9a7c"/><rect x="484.75" y="323.04" width="5.8" height="5.8" fill="#2f9a7c"/><rect x="499.30" y="322.72" width="5.8" height="5.8" fill="#2f9a7c"/><rect x="513.85" y="322.40" width="5.8" height="5.8" fill="#2f9a7c"/><rect x="528.40" y="322.23" width="5.8" height="5.8" fill="#2f9a7c"/><rect x="542.95" y="321.91" width="5.8" height="5.8" fill="#2f9a7c"/><rect x="557.50" y="321.75" width="5.8" height="5.8" fill="#2f9a7c"/>
<rect x="210.6" y="200" width="1.2" height="130.5" fill="#6f6f6f"/>
<rect x="210.6" y="329.6" width="354" height="1.1" fill="#b9b9b9" fill-opacity="0.9"/>
<rect x="298.00" y="330" width="1" height="4.5" fill="#c4c4c4"/>
<text class="dv" x="298.5" y="345" font-size="8.6" fill="#8c8c8c" text-anchor="middle" textLength="31" lengthAdjust="spacingAndGlyphs">11. Aug</text>
<rect x="399.85" y="330" width="1" height="4.5" fill="#c4c4c4"/>
<text class="dv" x="400.35" y="345" font-size="8.6" fill="#8c8c8c" text-anchor="middle" textLength="31" lengthAdjust="spacingAndGlyphs">18. Aug</text>
<rect x="501.70" y="330" width="1" height="4.5" fill="#c4c4c4"/>
<text class="dv" x="502.2" y="345" font-size="8.6" fill="#8c8c8c" text-anchor="middle" textLength="31" lengthAdjust="spacingAndGlyphs">25. Aug</text>
<text class="dv" x="387.8" y="362.2" font-size="8.8" fill="#939393" text-anchor="middle" textLength="176.5" lengthAdjust="spacingAndGlyphs">Became a Marketing Qualified Lead Date</text>
<rect x="207.1" y="381.70" width="8.6" height="8.6" rx="1.8" fill="#4fa5c8"/>
<text class="dv" x="219.8" y="389.40" font-size="9" font-weight="bold" fill="#333" textLength="80.2" lengthAdjust="spacingAndGlyphs">Other Campaigns</text>
<rect x="316.1" y="381.70" width="8.6" height="8.6" rx="1.8" fill="#fdc56d"/>
<text class="dv" x="328.8" y="389.40" font-size="9" font-weight="bold" fill="#333" textLength="60.1" lengthAdjust="spacingAndGlyphs">Direct Traffic</text>
<rect x="404.4" y="381.70" width="8.6" height="8.6" rx="1.8" fill="#62bda8"/>
<text class="dv" x="417.0" y="389.40" font-size="9" font-weight="bold" fill="#333" textLength="74.9" lengthAdjust="spacingAndGlyphs">Email Marketing</text>
<rect x="207.1" y="396.80" width="8.6" height="8.6" rx="1.8" fill="#c67fb0"/>
<text class="dv" x="219.8" y="404.50" font-size="9" font-weight="bold" fill="#333" textLength="69.6" lengthAdjust="spacingAndGlyphs">Organic Search</text>
<rect x="305.2" y="396.80" width="8.6" height="8.6" rx="1.8" fill="#fc5d60"/>
<text class="dv" x="317.5" y="404.50" font-size="9" font-weight="bold" fill="#333" textLength="69.6" lengthAdjust="spacingAndGlyphs">Offline Sources</text>
<rect x="402.6" y="396.80" width="8.6" height="8.6" rx="1.8" fill="#1a7a9e"/>
<text class="dv" x="415.6" y="404.50" font-size="9" font-weight="bold" fill="#333" textLength="52.8" lengthAdjust="spacingAndGlyphs">Paid Search</text>
<rect x="483.8" y="396.80" width="8.6" height="8.6" rx="1.8" fill="#e9a033"/>
<text class="dv" x="496.5" y="404.50" font-size="9" font-weight="bold" fill="#333" textLength="57.3" lengthAdjust="spacingAndGlyphs">Social Media</text>
<rect x="207.1" y="411.90" width="8.6" height="8.6" rx="1.8" fill="#2f9a7c"/>
<text class="dv" x="219.8" y="419.60" font-size="9" font-weight="bold" fill="#333" textLength="41.5" lengthAdjust="spacingAndGlyphs">Referrals</text>
</svg>
<svg width="900" height="460" style="left:0;top:0" viewBox="158 60 900 460">
<text x="686.9" y="203.2" font-size="9.75" font-weight="bold" fill="#444" text-anchor="middle">Lifecycle Stage</text>
<text x="846.8" y="203.2" font-size="9.75" font-weight="bold" fill="#444" text-anchor="middle">Count of Contacts</text>
<rect x="734.6" y="207.6" width="224.9" height="22.8" rx="1.5" fill="#d8d8d8"/>
<rect x="734.6" y="207.6" width="224.9" height="22.8" rx="1.5" fill="#4fa5c8"/>
<text x="728.4" y="222.9" font-size="9.15" fill="#666" text-anchor="end">Created</text>
<rect x="734.6" y="250.9" width="224.9" height="22.4" rx="1.5" fill="#d8d8d8"/>
<rect x="777.5" y="250.9" width="138.7" height="22.4" rx="1.5" fill="#4fa5c8"/>
<text x="728.4" y="266.0" font-size="9.15" fill="#666" text-anchor="end">Lead</text>
<rect x="734.6" y="293.8" width="224.9" height="22.1" rx="1.5" fill="#d8d8d8"/>
<rect x="842.6" y="293.8" width="8.8" height="22.1" rx="1.5" fill="#4fa5c8"/>
<text x="728.4" y="308.8" font-size="9.15" fill="#666" text-anchor="end">Marketing Qualifie...</text>
<text x="846.9" y="246.2" font-size="9.5" font-weight="bold" fill="#444" text-anchor="middle">61.18%</text>
<text x="846.9" y="289.1" font-size="9.5" font-weight="bold" fill="#444" text-anchor="middle">5.34%</text>
<text x="846.9" y="331.4" font-size="9.5" font-weight="bold" fill="#444" text-anchor="middle">13.46%</text>
</svg>
<div class="abs winedge" style="left:0.3px;top:37px;width:1.1px;height:430px;background:#a6a6a6;"></div><div class="abs winedge" style="left:898.7px;top:37px;width:1.1px;height:430px;background:#a6a6a6;"></div>
<div class="abs" style="left:0;top:396px;width:900px;height:51px;background:linear-gradient(to bottom,rgba(0,0,0,0) 0%,rgba(0,0,0,0.03) 18%,rgba(0,0,0,0.46) 100%);"></div>
</div>
<svg width="1280" height="587" style="left:0;top:0" viewBox="0 0 1280 587"><defs><filter id="pglow" x="-20%" y="-20%" width="140%" height="140%"><feGaussianBlur stdDeviation="6"/></filter><filter id="pglowb" x="-20%" y="-20%" width="140%" height="140%"><feGaussianBlur stdDeviation="2"/></filter></defs><rect x="973" y="130.5" width="232" height="420" rx="37" fill="#fff" fill-opacity="0.55" filter="url(#pglow)"/><rect x="975" y="132.5" width="228" height="420" rx="35" fill="#fff" fill-opacity="0.95" filter="url(#pglowb)"/><clipPath id="vclip"><rect x="960" y="200" width="16.8" height="130"/></clipPath><g clip-path="url(#vclip)" font-size="9.15" fill="#6a6a6a"><text x="965.2" y="222.9">44,</text><text x="965.2" y="266">26,</text><text x="965.2" y="308.8">1,4</text></g></svg>
<div id="tab" class="abs" style="left:596px;top:332.2px;width:420px;height:200px;background:#fff;border:1.5px solid #989898;border-radius:7px;box-sizing:border-box;box-shadow:0 0 2px rgba(0,0,0,0.15);"></div>
<svg width="1280" height="587" style="left:0;top:0" viewBox="0 0 1280 587">
<rect x="602.3" y="342" width="400" height="153" rx="2" fill="#f6f6f6" stroke="#e2e2e2" stroke-width="0.8"/>
<rect x="602.7" y="360.5" width="400" height="0.8" fill="#e6e6e6"/>
<rect x="606.7" y="346.6" width="71.9" height="10.3" rx="1.5" fill="#f4f4f4" stroke="#c9c9c9" stroke-width="0.7"/>
<path d="M608.2 346.6 H640.4 V356.9 H608.2 Q606.7 356.9 606.7 355.4 V348.1 Q606.7 346.6 608.2 346.6 Z" fill="#d4d4d4" stroke="#bdbdbd" stroke-width="0.7"/>
<text x="623.5" y="353.6" font-size="4.9" font-weight="bold" fill="#555" text-anchor="middle" textLength="19.5" lengthAdjust="spacingAndGlyphs">Standard</text>
<text x="659.5" y="353.6" font-size="4.9" font-weight="bold" fill="#555" text-anchor="middle" textLength="24.3" lengthAdjust="spacingAndGlyphs">Cumulative</text>
<rect x="684.2" y="346.6" width="61.2" height="10.3" rx="1.5" fill="#fff" stroke="#cfcfcf" stroke-width="0.7"/>
<text x="687.5" y="353.6" font-size="4.9" fill="#444" textLength="11.5" lengthAdjust="spacingAndGlyphs">Visits</text>
<path d="M739.2 351 L742.2 351 L740.7 352.8 Z" fill="#444"/>
<rect x="751.8" y="349.6" width="3.8" height="3.8" rx="0.8" fill="#f2f2f2" stroke="#b5b5b5" stroke-width="0.6"/>
<text x="758.7" y="353.6" font-size="4.9" fill="#444" textLength="45.5" lengthAdjust="spacingAndGlyphs">Show offline sources</text>
<rect x="809.6" y="349.6" width="3.8" height="3.8" rx="0.8" fill="#f2f2f2" stroke="#b5b5b5" stroke-width="0.6"/>
<text x="815.6" y="353.6" font-size="4.9" fill="#444" textLength="61.5" lengthAdjust="spacingAndGlyphs">Show visits-to-contacts rate</text>
<circle cx="955.5" cy="351.9" r="2.3" fill="#2f7fd1"/><path d="M954.2 351.9 H956.8 M955.5 350.6 V353.2" stroke="#fff" stroke-width="0.7"/>
<text x="960" y="353.6" font-size="4.9" fill="#2f7fd1">Add marker</text>
<rect x="637.4" y="372.35" width="360" height="0.7" fill="#e6e6e6"/>
<text x="634.6" y="374.30" font-size="4.2" fill="#666" text-anchor="end">1,000,000</text>
<rect x="637.4" y="397.05" width="360" height="0.7" fill="#e6e6e6"/>
<text x="634.6" y="399.00" font-size="4.2" fill="#666" text-anchor="end">750,000</text>
<rect x="637.4" y="421.75" width="360" height="0.7" fill="#e6e6e6"/>
<text x="634.6" y="423.70" font-size="4.2" fill="#666" text-anchor="end">500,000</text>
<rect x="637.4" y="446.45" width="360" height="0.7" fill="#e6e6e6"/>
<text x="634.6" y="448.40" font-size="4.2" fill="#666" text-anchor="end">250,000</text>
<rect x="637.4" y="470.95" width="360" height="0.7" fill="#d5d5d5"/>
<text x="634.6" y="472.90" font-size="4.2" fill="#666" text-anchor="end">0</text>
<text transform="translate(612.2 421.5) rotate(-90)" font-size="4.6" font-weight="bold" fill="#3a6ea8" text-anchor="middle">Visits</text>
<rect x="637.4" y="487.3" width="360" height="0.6" fill="#dcdcdc" fill-opacity="1"/>
<rect x="655.1" y="453.56" width="38.5" height="5.84" fill="#9aab00"/>
<rect x="655.1" y="459.35" width="38.5" height="1.07" fill="#e2ab14"/>
<rect x="655.1" y="460.37" width="38.5" height="1.41" fill="#23a897"/>
<rect x="655.1" y="461.74" width="38.5" height="3.12" fill="#e07b24"/>
<rect x="655.1" y="464.80" width="38.5" height="5.16" fill="#2283cc"/>
<rect x="655.1" y="469.91" width="38.5" height="1.07" fill="#b8408f"/>
<text x="674.35" y="451.36" font-size="4" fill="#555" text-anchor="middle">177,196</text>
<text x="674.35" y="477.8" font-size="4.1" fill="#555" text-anchor="middle">12/28 - 1/03</text>
<rect x="674.05" y="471.3" width="0.6" height="1.5" fill="#ccc"/>
<rect x="672.05" y="485" width="4.6" height="5.2" rx="0.8" fill="#f4f4f4" stroke="#5a5a5a" stroke-width="0.75"/><path d="M673.15 487.8 L674.05 488.7 L675.65 486.6" fill="none" stroke="#5a5a5a" stroke-width="0.7"/><rect x="673.25" y="484.2" width="2.2" height="1.1" fill="#5a5a5a"/>
<rect x="728.3" y="397.00" width="38.5" height="27.31" fill="#9aab00"/>
<rect x="728.3" y="424.26" width="38.5" height="4.14" fill="#e2ab14"/>
<rect x="728.3" y="428.35" width="38.5" height="4.48" fill="#23a897"/>
<rect x="728.3" y="432.78" width="38.5" height="12.32" fill="#e07b24"/>
<rect x="728.3" y="445.04" width="38.5" height="23.22" fill="#2283cc"/>
<rect x="728.3" y="468.21" width="38.5" height="2.78" fill="#b8408f"/>
<text x="747.55" y="394.80" font-size="4" fill="#555" text-anchor="middle">751,872</text>
<text x="747.55" y="477.8" font-size="4.1" fill="#555" text-anchor="middle">1/04 - 1/10</text>
<rect x="747.25" y="471.3" width="0.6" height="1.5" fill="#ccc"/>
<rect x="745.25" y="485" width="4.6" height="5.2" rx="0.8" fill="#f4f4f4" stroke="#5a5a5a" stroke-width="0.75"/><path d="M746.35 487.8 L747.25 488.7 L748.85 486.6" fill="none" stroke="#5a5a5a" stroke-width="0.7"/><rect x="746.45" y="484.2" width="2.2" height="1.1" fill="#5a5a5a"/>
<rect x="801.9" y="392.91" width="38.5" height="29.69" fill="#9aab00"/>
<rect x="801.9" y="422.56" width="38.5" height="4.14" fill="#e2ab14"/>
<rect x="801.9" y="426.64" width="38.5" height="5.16" fill="#23a897"/>
<rect x="801.9" y="431.75" width="38.5" height="10.61" fill="#e07b24"/>
<rect x="801.9" y="442.32" width="38.5" height="25.26" fill="#2283cc"/>
<rect x="801.9" y="467.53" width="38.5" height="3.46" fill="#b8408f"/>
<text x="821.15" y="390.71" font-size="4" fill="#555" text-anchor="middle">791,491</text>
<text x="821.15" y="477.8" font-size="4.1" fill="#555" text-anchor="middle">1/11 - 1/17</text>
<rect x="820.85" y="471.3" width="0.6" height="1.5" fill="#ccc"/>
<rect x="818.85" y="485" width="4.6" height="5.2" rx="0.8" fill="#f4f4f4" stroke="#5a5a5a" stroke-width="0.75"/><path d="M819.95 487.8 L820.85 488.7 L822.45 486.6" fill="none" stroke="#5a5a5a" stroke-width="0.7"/><rect x="820.05" y="484.2" width="2.2" height="1.1" fill="#5a5a5a"/>
<rect x="875.5" y="377.24" width="38.5" height="30.71" fill="#9aab00"/>
<rect x="875.5" y="407.90" width="38.5" height="4.14" fill="#e2ab14"/>
<rect x="875.5" y="411.99" width="38.5" height="14.36" fill="#23a897"/>
<rect x="875.5" y="426.30" width="38.5" height="11.98" fill="#e07b24"/>
<rect x="875.5" y="438.23" width="38.5" height="25.94" fill="#2283cc"/>
<rect x="875.5" y="464.12" width="38.5" height="6.86" fill="#b8408f"/>
<text x="894.75" y="375.04" font-size="4" fill="#555" text-anchor="middle">948,924</text>
<text x="894.75" y="477.8" font-size="4.1" fill="#555" text-anchor="middle">1/18 - 1/24</text>
<rect x="894.45" y="471.3" width="0.6" height="1.5" fill="#ccc"/>
<rect x="892.45" y="485" width="4.6" height="5.2" rx="0.8" fill="#f4f4f4" stroke="#5a5a5a" stroke-width="0.75"/><path d="M893.55 487.8 L894.45 488.7 L896.05 486.6" fill="none" stroke="#5a5a5a" stroke-width="0.7"/><rect x="893.65" y="484.2" width="2.2" height="1.1" fill="#5a5a5a"/>
<rect x="949.1" y="381.33" width="38.5" height="32.08" fill="#9aab00"/>
<rect x="949.1" y="413.36" width="38.5" height="3.80" fill="#e2ab14"/>
<rect x="949.1" y="417.10" width="38.5" height="9.93" fill="#23a897"/>
<rect x="949.1" y="426.98" width="38.5" height="11.98" fill="#e07b24"/>
<rect x="949.1" y="438.91" width="38.5" height="25.94" fill="#2283cc"/>
<rect x="949.1" y="464.80" width="38.5" height="6.18" fill="#b8408f"/>
<text x="968.35" y="379.13" font-size="4" fill="#555" text-anchor="middle">906,552</text>
<text x="968.35" y="477.8" font-size="4.1" fill="#555" text-anchor="middle">1/25 - 1/31</text>
<rect x="968.05" y="471.3" width="0.6" height="1.5" fill="#ccc"/>
<rect x="966.05" y="485" width="4.6" height="5.2" rx="0.8" fill="#f4f4f4" stroke="#5a5a5a" stroke-width="0.75"/><path d="M967.15 487.8 L968.05 488.7 L969.65 486.6" fill="none" stroke="#5a5a5a" stroke-width="0.7"/><rect x="967.25" y="484.2" width="2.2" height="1.1" fill="#5a5a5a"/>
</svg>
<div class="abs" style="left:596px;top:462px;width:420px;height:45px;background:linear-gradient(to bottom,rgba(0,0,0,0) 0%,rgba(0,0,0,0.07) 40%,rgba(0,0,0,0.42) 100%);"></div>
<svg width="1280" height="587" style="left:0;top:0" viewBox="0 0 1280 587">
<defs>
<linearGradient id="pedge" x1="0" y1="0" x2="1" y2="0">
<stop offset="0" stop-color="#a4a4a4"/><stop offset="0.011" stop-color="#e9e9e9"/><stop offset="0.988" stop-color="#e6e6e6"/><stop offset="1" stop-color="#9c9c9c"/></linearGradient>
<filter id="pglow" x="-20%" y="-20%" width="140%" height="140%"><feGaussianBlur stdDeviation="7"/></filter>
<filter id="pglow2" x="-20%" y="-20%" width="140%" height="140%"><feGaussianBlur stdDeviation="1.6"/></filter>
<filter id="pshadow" x="-20%" y="-20%" width="140%" height="140%"><feGaussianBlur stdDeviation="5"/></filter>
<clipPath id="pscreen"><rect x="990.6" y="199.6" width="196.7" height="340" rx="2"/></clipPath>
<clipPath id="pbody"><rect x="977" y="134.5" width="224.4" height="420" rx="34"/></clipPath>
<linearGradient id="glare" gradientUnits="userSpaceOnUse" x1="0" y1="199" x2="0" y2="470"><stop offset="0" stop-color="#fff" stop-opacity="0.27"/><stop offset="0.25" stop-color="#fff" stop-opacity="0.24"/><stop offset="0.55" stop-color="#fff" stop-opacity="0.10"/><stop offset="1" stop-color="#fff" stop-opacity="0"/></linearGradient>
<clipPath id="pcard"><rect x="999.2" y="267.3" width="179.5" height="300" rx="3"/></clipPath>
</defs>
<rect x="985" y="142" width="222" height="420" rx="35" fill="#000" fill-opacity="0.10" filter="url(#pshadow)"/>
<rect x="1127" y="132.2" width="36.8" height="3" rx="1" fill="#cfcfcf"/>
<rect x="977" y="134.5" width="224.4" height="420" rx="34" fill="url(#pedge)"/>
<rect x="977.5" y="135" width="223.4" height="420" rx="33.5" fill="none" stroke="#f4f4f4" stroke-width="1" stroke-opacity="0.7"/>
<rect x="979.6" y="137" width="219.2" height="420" rx="31.5" fill="#f5f6f7"/>
<g clip-path="url(#pbody)"><path d="M1072 134 L1202 134 L1202 520 L1199 520 Z" fill="#fff" fill-opacity="0.4"/></g>
<path d="M977.9 175.5 C978 160 981 148 991.5 139.4" fill="none" stroke="#8c8c8c" stroke-width="1.2" stroke-opacity="0.9"/>
<path d="M1194.3 150.7 C1198 156 1200.2 164 1200.6 175.5" fill="none" stroke="#6e6e6e" stroke-width="1.7" stroke-opacity="0.9"/>
<linearGradient id="rband" gradientUnits="userSpaceOnUse" x1="0" y1="179" x2="0" y2="225"><stop offset="0" stop-color="#8a8a8a"/><stop offset="1" stop-color="#cfcfcf"/></linearGradient>
<rect x="1199.6" y="179.2" width="1.7" height="46" fill="url(#rband)"/>
<linearGradient id="lband" gradientUnits="userSpaceOnUse" x1="0" y1="179" x2="0" y2="330"><stop offset="0" stop-color="#8c8c8c"/><stop offset="1" stop-color="#b4b4b4"/></linearGradient>
<rect x="977.1" y="179.2" width="1.3" height="380" fill="url(#lband)"/>
<rect x="977" y="177.6" width="3" height="1.4" fill="#fff"/><rect x="1198.6" y="177.6" width="3" height="1.4" fill="#fff"/>
<circle cx="1089" cy="157.5" r="4.1" fill="#a4a7ac"/><circle cx="1089" cy="157.5" r="1.7" fill="#5f7fbd"/>
<circle cx="1058.3" cy="175.4" r="3" fill="#55575a"/>
<rect x="1070.7" y="173" width="37.4" height="4.8" rx="2.4" fill="#8b8d90"/><rect x="1071.5" y="173.6" width="14" height="3.6" rx="1.8" fill="#2c2c2c"/><path d="M1085.5 173.6 L1083 173.6 L1084.4 177.2 L1087 177.2 Z" fill="#2c2c2c"/>
<g clip-path="url(#pscreen)">
<rect x="990" y="199" width="198" height="340" fill="#3c3c3c"/>
<rect x="990" y="199" width="198" height="41.5" fill="#333"/>
<circle cx="998.60" cy="208.3" r="1.45" fill="#fff"/>
<circle cx="1002.95" cy="208.3" r="1.45" fill="#fff"/>
<circle cx="1007.30" cy="208.3" r="1.45" fill="#fff"/>
<circle cx="1011.65" cy="208.3" r="1.45" fill="#fff"/>
<circle cx="1016.00" cy="208.3" r="1.45" fill="#fff"/>
<g fill="none" stroke="#fff" stroke-width="0.9" stroke-linecap="round"><path d="M1019.9 207.2 Q1023.4 204.2 1026.9 207.2"/><path d="M1021.2 208.7 Q1023.4 206.9 1025.6 208.7"/></g><circle cx="1023.4" cy="210.2" r="1.25" fill="#fff" stroke="#3d8fe3" stroke-width="0.4"/>
<text x="1088.4" y="210.6" font-size="6.4" font-weight="bold" fill="#fff" text-anchor="middle" textLength="28" lengthAdjust="spacingAndGlyphs">9:41 AM</text>
<text x="1146.7" y="210.6" font-size="6.2" fill="#fff" textLength="17.1" lengthAdjust="spacingAndGlyphs">100%</text>
<rect x="1166.9" y="205.9" width="13" height="4.8" rx="0.8" fill="#fff"/><rect x="1180.2" y="207.4" width="1" height="1.8" fill="#fff"/>
<rect x="1002.4" y="223.5" width="12.5" height="0.8" fill="#e2e2e2"/>
<rect x="1002.4" y="227.0" width="12.5" height="0.8" fill="#e2e2e2"/>
<rect x="1002.4" y="230.5" width="12.5" height="0.8" fill="#e2e2e2"/>
<text x="1088.8" y="231.3" font-size="11.6" fill="#cdcdcd" text-anchor="middle" textLength="56.5" lengthAdjust="spacingAndGlyphs">Dashboard</text>
<path d="M1175.04 226.62 L1175.04 228.18 L1173.87 228.38 L1173.49 229.31 L1174.17 230.27 L1173.07 231.37 L1172.11 230.69 L1171.18 231.07 L1170.98 232.24 L1169.42 232.24 L1169.22 231.07 L1168.29 230.69 L1167.33 231.37 L1166.23 230.27 L1166.91 229.31 L1166.53 228.38 L1165.36 228.18 L1165.36 226.62 L1166.53 226.42 L1166.91 225.49 L1166.23 224.53 L1167.33 223.43 L1168.29 224.11 L1169.22 223.73 L1169.42 222.56 L1170.98 222.56 L1171.18 223.73 L1172.11 224.11 L1173.07 223.43 L1174.17 224.53 L1173.49 225.49 L1173.87 226.42 Z" fill="none" stroke="#b0b0b0" stroke-width="0.7" stroke-linejoin="round"/><circle cx="1170.2" cy="227.4" r="1.9" fill="none" stroke="#b0b0b0" stroke-width="0.7"/>
<text x="999" y="257" font-size="10.2" fill="#fff" textLength="36.3" lengthAdjust="spacingAndGlyphs">October</text>
<text x="1130.6" y="257" font-size="10.2" fill="#fff" textLength="47.8" lengthAdjust="spacingAndGlyphs">September</text>
<path d="M1015.2 260.2 L1017.4 261.8 L1019.6 260.2 M1152.2 260.2 L1154.4 261.8 L1156.6 260.2" fill="none" stroke="#9a9a9a" stroke-width="0.7"/>
<circle cx="1088.7" cy="254.3" r="8.8" fill="none" stroke="#6b6b6b" stroke-width="0.8"/>
<text x="1088.7" y="256.6" font-size="6.2" fill="#7d7d7d" text-anchor="middle">VS</text>
<g clip-path="url(#pcard)">
<rect x="999" y="267" width="180" height="300" fill="#e9eced"/>
<text x="1089" y="289.8" font-size="9.9" fill="#3a3a3a" text-anchor="middle" textLength="45.9" lengthAdjust="spacingAndGlyphs" stroke="#3a3a3a" stroke-width="0.15">Total Visits</text>
<text x="1011.1" y="307.6" font-size="12" fill="#3d8fe3" textLength="42.2" lengthAdjust="spacingAndGlyphs">901.72k</text>
<text x="1123.8" y="307.6" font-size="12" fill="#3d8fe3" textLength="42.2" lengthAdjust="spacingAndGlyphs">838.29k</text>
<text x="1089.3" y="305.8" font-size="8.6" fill="#a9acad" text-anchor="middle">vs</text>
<path d="M1079 303.4 H1084.6 M1094 303.4 H1099.6" stroke="#c2c5c6" stroke-width="0.6"/>
<text x="1091.7" y="319.8" font-size="7.4" fill="#aaadae" text-anchor="middle" textLength="20.2" lengthAdjust="spacingAndGlyphs">7.57%</text>
<rect x="1089.5" y="326" width="6.2" height="6" fill="#a3c7ec" stroke="#3d8fe3" stroke-width="0.8"/><rect x="1088.8" y="323.3" width="0.9" height="12" fill="#5a6678"/>
<text x="1088.9" y="347.7" font-size="7.9" fill="#9a9d9e" text-anchor="middle" textLength="73.8" lengthAdjust="spacingAndGlyphs">Ahead by 8% (63,435)</text>
<text x="1007.5" y="374.7" font-size="7.3" fill="#9da0a1" textLength="12.3" lengthAdjust="spacingAndGlyphs">2.5m</text>
<text x="1007.5" y="390.7" font-size="7.3" fill="#9da0a1" textLength="8" lengthAdjust="spacingAndGlyphs">2m</text>
<text x="1007.5" y="406.6" font-size="7.3" fill="#9da0a1" textLength="12.3" lengthAdjust="spacingAndGlyphs">1.5m</text>
<text x="1007.5" y="422.6" font-size="7.3" fill="#9da0a1" textLength="8" lengthAdjust="spacingAndGlyphs">1m</text>
<text x="1007.5" y="438.3" font-size="7.3" fill="#9da0a1" textLength="11.7" lengthAdjust="spacingAndGlyphs">500k</text>
<text x="1007.5" y="454.0" font-size="7.3" fill="#9da0a1" textLength="2.6" lengthAdjust="spacingAndGlyphs">0</text>
<path d="M1026.50 451.3 L1026.50 449.02 L1031.41 445.34 L1036.01 442.27 L1040.61 439.51 L1045.21 437.36 L1049.82 435.21 L1054.42 432.45 L1059.02 429.69 L1063.62 427.55 L1068.53 425.71 L1072.82 421.10 L1077.42 417.42 L1082.02 414.66 L1087.55 412.82 L1092.76 411.29 L1097.36 407.30 L1101.96 403.62 L1106.56 400.55 L1111.17 397.48 L1115.15 395.03 L1119.45 393.80 L1124.36 392.88 L1128.65 389.82 L1133.56 385.21 L1138.16 380.61 L1142.76 376.93 L1147.36 373.56 L1151.96 372.02 L1157.18 369.88 L1162.39 366.20 L1162.39 451.3 Z" fill="#cfd2d2"/>
<path d="M1026.50 451.3 L1026.50 446.56 L1031.41 443.50 L1036.01 440.43 L1040.61 437.98 L1045.21 436.44 L1049.82 434.60 L1054.42 431.53 L1059.02 427.85 L1063.62 424.48 L1068.53 422.02 L1068.53 451.3 Z" fill="#8db7e3"/>
<rect x="1026.5" y="371.6" width="140.5" height="0.8" fill="#a9acad" fill-opacity="0.75"/>
<rect x="1026.5" y="387.6" width="140.5" height="0.8" fill="#a9acad" fill-opacity="0.75"/>
<rect x="1026.5" y="403.5" width="140.5" height="0.8" fill="#a9acad" fill-opacity="0.75"/>
<rect x="1026.5" y="419.5" width="140.5" height="0.8" fill="#a9acad" fill-opacity="0.75"/>
<rect x="1026.5" y="435.2" width="140.5" height="0.8" fill="#a9acad" fill-opacity="0.75"/>
<path d="M1026.50 449.02 L1031.41 445.34 L1036.01 442.27 L1040.61 439.51 L1045.21 437.36 L1049.82 435.21 L1054.42 432.45 L1059.02 429.69 L1063.62 427.55 L1068.53 425.71 L1072.82 421.10 L1077.42 417.42 L1082.02 414.66 L1087.55 412.82 L1092.76 411.29 L1097.36 407.30 L1101.96 403.62 L1106.56 400.55 L1111.17 397.48 L1115.15 395.03 L1119.45 393.80 L1124.36 392.88 L1128.65 389.82 L1133.56 385.21 L1138.16 380.61 L1142.76 376.93 L1147.36 373.56 L1151.96 372.02 L1157.18 369.88 L1162.39 366.20" fill="none" stroke="#a7a9aa" stroke-width="0.9"/>
<circle cx="1072.82" cy="421.10" r="0.8" fill="#a0a2a3"/>
<circle cx="1077.42" cy="417.42" r="0.8" fill="#a0a2a3"/>
<circle cx="1082.02" cy="414.66" r="0.8" fill="#a0a2a3"/>
<circle cx="1087.55" cy="412.82" r="0.8" fill="#a0a2a3"/>
<circle cx="1092.76" cy="411.29" r="0.8" fill="#a0a2a3"/>
<circle cx="1097.36" cy="407.30" r="0.8" fill="#a0a2a3"/>
<circle cx="1101.96" cy="403.62" r="0.8" fill="#a0a2a3"/>
<circle cx="1106.56" cy="400.55" r="0.8" fill="#a0a2a3"/>
<circle cx="1111.17" cy="397.48" r="0.8" fill="#a0a2a3"/>
<circle cx="1115.15" cy="395.03" r="0.8" fill="#a0a2a3"/>
<circle cx="1119.45" cy="393.80" r="0.8" fill="#a0a2a3"/>
<circle cx="1124.36" cy="392.88" r="0.8" fill="#a0a2a3"/>
<circle cx="1128.65" cy="389.82" r="0.8" fill="#a0a2a3"/>
<circle cx="1133.56" cy="385.21" r="0.8" fill="#a0a2a3"/>
<circle cx="1138.16" cy="380.61" r="0.8" fill="#a0a2a3"/>
<circle cx="1142.76" cy="376.93" r="0.8" fill="#a0a2a3"/>
<circle cx="1147.36" cy="373.56" r="0.8" fill="#a0a2a3"/>
<circle cx="1151.96" cy="372.02" r="0.8" fill="#a0a2a3"/>
<circle cx="1157.18" cy="369.88" r="0.8" fill="#a0a2a3"/>
<circle cx="1162.39" cy="366.20" r="0.8" fill="#a0a2a3"/>
<path d="M1026.50 446.56 L1031.41 443.50 L1036.01 440.43 L1040.61 437.98 L1045.21 436.44 L1049.82 434.60 L1054.42 431.53 L1059.02 427.85 L1063.62 424.48 L1068.53 422.02" fill="none" stroke="#3d8fe3" stroke-width="1.1"/>
<circle cx="1026.50" cy="446.56" r="1.25" fill="#fff" stroke="#3d8fe3" stroke-width="0.4"/>
<circle cx="1031.41" cy="443.50" r="1.25" fill="#fff" stroke="#3d8fe3" stroke-width="0.4"/>
<circle cx="1036.01" cy="440.43" r="1.25" fill="#fff" stroke="#3d8fe3" stroke-width="0.4"/>
<circle cx="1040.61" cy="437.98" r="1.25" fill="#fff" stroke="#3d8fe3" stroke-width="0.4"/>
<circle cx="1045.21" cy="436.44" r="1.25" fill="#fff" stroke="#3d8fe3" stroke-width="0.4"/>
<circle cx="1049.82" cy="434.60" r="1.25" fill="#fff" stroke="#3d8fe3" stroke-width="0.4"/>
<circle cx="1054.42" cy="431.53" r="1.25" fill="#fff" stroke="#3d8fe3" stroke-width="0.4"/>
<circle cx="1059.02" cy="427.85" r="1.25" fill="#fff" stroke="#3d8fe3" stroke-width="0.4"/>
<circle cx="1063.62" cy="424.48" r="1.25" fill="#fff" stroke="#3d8fe3" stroke-width="0.4"/>
<circle cx="1068.53" cy="422.02" r="1.25" fill="#fff" stroke="#3d8fe3" stroke-width="0.4"/>
<rect x="1026.1" y="365.3" width="0.9" height="86.4" fill="#8e9192"/>
<rect x="1026.1" y="450.9" width="141" height="0.9" fill="#8e9192"/>
<rect x="1026.20" y="451.3" width="0.6" height="1.6" fill="#8e9192"/>
<rect x="1049.60" y="451.3" width="0.6" height="1.6" fill="#8e9192"/>
<rect x="1073.00" y="451.3" width="0.6" height="1.6" fill="#8e9192"/>
<rect x="1096.40" y="451.3" width="0.6" height="1.6" fill="#8e9192"/>
<rect x="1119.80" y="451.3" width="0.6" height="1.6" fill="#8e9192"/>
<rect x="1143.20" y="451.3" width="0.6" height="1.6" fill="#8e9192"/>
<rect x="1166.60" y="451.3" width="0.6" height="1.6" fill="#8e9192"/>
<text x="1026.3" y="461.3" font-size="6.6" fill="#9a9d9e" text-anchor="middle">0</text>
<text x="1072.8" y="461.3" font-size="6.6" fill="#9a9d9e" text-anchor="middle">10</text>
<text x="1119.4" y="461.3" font-size="6.6" fill="#9a9d9e" text-anchor="middle">20</text>
<text x="1166.4" y="461.3" font-size="6.6" fill="#9a9d9e" text-anchor="middle">30</text>
<path d="M999 475.6 H1179 V480.6 L1095 489.4 Q1089 490.2 1083 489.4 L999 480.6 Z" fill="#dde0e0"/>
<rect x="999" y="475.3" width="180" height="0.7" fill="#d6d9d9"/>
<text x="1088.9" y="485.3" font-size="7.8" fill="#bcbfc0" text-anchor="middle" textLength="19.6" lengthAdjust="spacingAndGlyphs">1.67%</text>
</g>
</g>
<g clip-path="url(#pscreen)"><path d="M1093.6 199.6 L1188 199.6 L1188 520 L1199.4 520 Z" fill="url(#glare)"/></g>
</svg>
<div class="abs" style="left:977px;top:462px;width:224.4px;height:45px;background:linear-gradient(to bottom,rgba(0,0,0,0) 0%,rgba(0,0,0,0.04) 45%,rgba(0,0,0,0.17) 100%);"></div>
</div>
</body>
</html>
